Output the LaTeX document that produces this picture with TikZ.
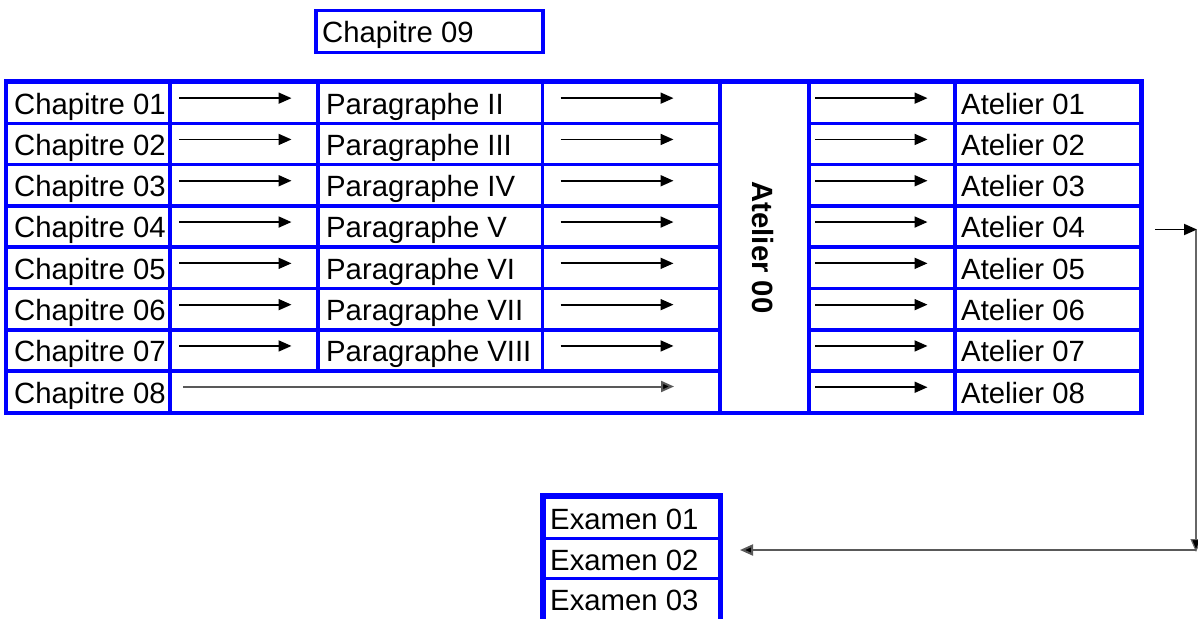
\documentclass[tikz,border=0pt]{standalone}
\usepackage{fontspec}
\setmainfont{Liberation Sans}
\usetikzlibrary{arrows.meta}
\begin{document}
\begin{tikzpicture}[x=1pt,y=-1pt,
  cellbox/.style={draw=blue, line width=3.5pt},
  frame/.style={draw=blue, line width=2.5pt},
  lbl/.style={anchor=base west, inner sep=0pt, font=\fontsize{29.3}{34}\selectfont},
  arr/.style={line width=1.8pt, -{Triangle[length=13pt,width=11pt]}},
  longarr/.style={draw=black!65, line width=2pt, -{Triangle[length=13pt,width=11pt,fill=black]}},
  vline/.style={draw=black!60, line width=1.2pt, -{Triangle[length=13pt,width=11pt,fill=black]}}]
\useasboundingbox (0,0) rectangle (1198,618);
% Chapitre 09
\draw[cellbox] (316,10.5) rectangle (543,52.5);
\node[lbl] (ch09) at (322,42) {Chapitre 09};
% outer frame of table
\draw[frame] (5,80.5) rectangle (1142.5,414);
% rows 1..7
\foreach \i/\c/\p in {1/01/II,2/02/III,3/03/IV,4/04/V,5/05/VI,6/06/VII,7/07/VIII}{
  \pgfmathsetmacro\rt{82+41.3*(\i-1)}
  \pgfmathsetmacro\rb{\rt+41.3}
  \pgfmathsetmacro\ry{\rt+20.65-4.5}
  \pgfmathsetmacro\rl{\rt+32}
  \draw[cellbox] (6.5,\rt) rectangle (170,\rb);
  \draw[cellbox] (170,\rt) rectangle (318,\rb);
  \draw[cellbox] (318,\rt) rectangle (542.5,\rb);
  \draw[cellbox] (542.5,\rt) rectangle (720,\rb);
  \node[lbl] (ch\i) at (14,\rl) {Chapitre \c};
  \node[lbl] (pa\i) at (326,\rl) {Paragraphe \p};
  \coordinate (a\i s) at (179,\ry);
  \coordinate (a\i e) at (291.5,\ry);
  \coordinate (b\i s) at (560.5,\ry);
  \coordinate (b\i e) at (673.5,\ry);
  \draw[arr] (a\i s) -- (a\i e);
  \draw[arr] (b\i s) -- (b\i e);
}
% row 8 left part
\draw[cellbox] (6.5,371.1) rectangle (170,412.4);
\draw[cellbox] (170,371.1) rectangle (720,412.4);
\node[lbl] (ch8) at (14,403.1) {Chapitre 08};
\coordinate (a8s) at (183,386.5);
\coordinate (a8e) at (674,386.5);
\draw[longarr] (a8s) -- (a8e);
% Atelier 00 column
\draw[cellbox] (720,82) rectangle (809,412.4);
\node[rotate=-90, font=\fontsize{29.3}{34}\selectfont\bfseries, inner sep=0pt] (at00) at (763,247.5) {Atelier 00};
% right columns
\foreach \i in {1,...,8}{
  \pgfmathsetmacro\rt{82+41.3*(\i-1)}
  \pgfmathsetmacro\rb{\rt+41.3}
  \pgfmathsetmacro\ry{\rt+20.65-4.5}
  \pgfmathsetmacro\rl{\rt+32}
  \draw[cellbox] (809,\rt) rectangle (955,\rb);
  \draw[cellbox] (955,\rt) rectangle (1140.5,\rb);
  \node[lbl] (at\i) at (961,\rl) {Atelier 0\i};
  \coordinate (c\i s) at (815,\ry);
  \coordinate (c\i e) at (927.5,\ry);
  \draw[arr] (c\i s) -- (c\i e);
}
% Examen boxes
\draw[frame] (541.5,494.5) rectangle (721.5,640);
\draw[cellbox] (544,497) rectangle (719.5,538.5);
\draw[cellbox] (544,538.5) rectangle (719.5,578.5);
\draw[cellbox] (544,578.5) rectangle (719.5,640);
\node[lbl] (ex1) at (550,529.5) {Examen 01};
\node[lbl] (ex2) at (550,570) {Examen 02};
\node[lbl] (ex3) at (550,610.5) {Examen 03};
% connector from Atelier 04 to Examen 02
\coordinate (r0) at (1155,229.5);
\coordinate (r1) at (1197,229.5);
\coordinate (r2) at (1196,552);
\coordinate (r3) at (1196,550);
\coordinate (r4) at (740,550);
\draw[arr] (r0) -- (r1);
\draw[vline] (1196,229.5) -- (r2);
\draw[longarr] (r3) -- (r4);
\end{tikzpicture}
\end{document}
